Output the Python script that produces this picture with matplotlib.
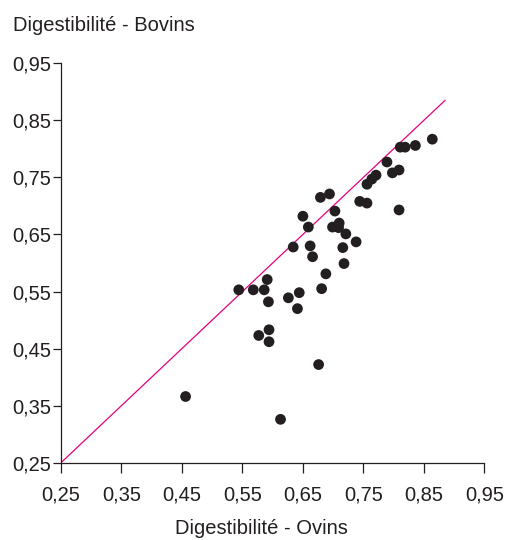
import matplotlib
matplotlib.use('Agg')
import matplotlib.pyplot as plt

plt.rcParams['font.family'] = ['Liberation Sans', 'DejaVu Sans']

# Data
ovins = [0.544, 0.568, 0.586, 0.591, 0.593, 0.626, 0.644, 0.641, 0.681, 0.688,
         0.634, 0.662, 0.666, 0.650, 0.659, 0.679, 0.694, 0.703, 0.699, 0.710,
         0.709, 0.721, 0.716, 0.738, 0.718, 0.744, 0.756, 0.756, 0.764, 0.771,
         0.789, 0.798, 0.809, 0.809, 0.811, 0.819, 0.836, 0.864, 0.577, 0.594,
         0.594, 0.676, 0.613, 0.456]
bovins = [0.553, 0.553, 0.553, 0.571, 0.532, 0.539, 0.548, 0.520, 0.555, 0.581,
          0.628, 0.630, 0.611, 0.682, 0.663, 0.715, 0.721, 0.691, 0.663, 0.670,
          0.662, 0.651, 0.627, 0.637, 0.599, 0.708, 0.705, 0.738, 0.747, 0.754,
          0.777, 0.758, 0.763, 0.693, 0.803, 0.803, 0.806, 0.817, 0.473, 0.483,
          0.462, 0.422, 0.326, 0.366]
diag = [0.25, 0.885]
ticks = [0.25, 0.35, 0.45, 0.55, 0.65, 0.75, 0.85, 0.95]
tick_labels = ['0,25', '0,35', '0,45', '0,55', '0,65', '0,75', '0,85', '0,95']

dark = '#231f20'
pink = '#e5007d'

fig = plt.figure(figsize=(5.06, 5.40), dpi=100)
ax = fig.add_axes([61 / 506, 1 - 462.7 / 540, 423.3 / 506, 399.4 / 540])

ax.plot(diag, diag, color=pink, linewidth=0.9, zorder=2)
ax.scatter(ovins, bovins, s=60, color=dark, edgecolors='none', zorder=3)

ax.set_xlim(0.25, 0.95)
ax.set_ylim(0.25, 0.95)
ax.set_xticks(ticks)
ax.set_xticklabels(tick_labels)
ax.set_yticks(ticks)
ax.set_yticklabels(tick_labels)

for side in ['top', 'right']:
    ax.spines[side].set_visible(False)
for side in ['left', 'bottom']:
    ax.spines[side].set_color(dark)
    ax.spines[side].set_linewidth(0.9)

ax.tick_params(axis='x', direction='out', length=7.2, width=0.9, pad=9,
               colors=dark, labelsize=14.5)
ax.tick_params(axis='y', direction='out', length=5.8, width=0.9, pad=1.5,
               colors=dark, labelsize=14.5)

fig.text(13 / 506, 1 - 31 / 540, 'Digestibilité - Bovins', fontsize=14.5,
         color=dark, ha='left', va='baseline')
fig.text(261 / 506, 1 - 534 / 540, 'Digestibilité - Ovins', fontsize=14.5,
         color=dark, ha='center', va='baseline')

fig.savefig('out.png', dpi=100)
plt.close(fig)
